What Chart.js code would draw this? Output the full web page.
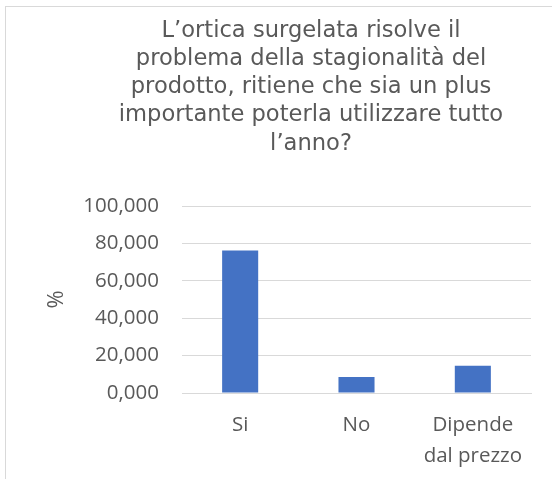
<!DOCTYPE html>
<html lang="it">
<head>
<meta charset="utf-8">
<title>Ortica surgelata</title>
<script src="https://cdn.jsdelivr.net/npm/chart.js@4.4.1/dist/chart.umd.min.js"></script>
<style>
  html, body {
    margin: 0;
    padding: 0;
    background: #ffffff;
    overflow: hidden;
  }
  .frame {
    position: absolute;
    left: 5px;
    top: 6px;
    width: 640px;
    height: 520px;
    border: 1px solid #d9d9d9;
  }
  .chart-box {
    position: absolute;
    left: 0;
    top: 0;
    width: 552px;
    height: 479px;
  }
</style>
</head>
<body>
<div class="frame"></div>
<div class="chart-box">
  <canvas id="surveyChart" width="552" height="479"></canvas>
</div>
<script>
// Survey answers (percent of respondents)
const titleLines = [
  'L\u2019ortica surgelata risolve il',
  'problema della stagionalità del',
  'prodotto, ritiene che sia un plus',
  'importante poterla utilizzare tutto',
  'l\u2019anno?'
]
const categories = ['Si', 'No', ['Dipende', 'dal prezzo']]
const percentages = [76.2, 8.5, 14.6]
const tickValues = [0, 20, 40, 60, 80, 100]

const textColor = '#595959'
const gridColor = '#d9d9d9'
const barColor = '#4472c4'
const axisFont = '"Open Sans", sans-serif'

// Title is centred on the whole chart frame, not on the plot area
const frameTitle = {
  id: 'frameTitle',
  afterDraw(chart) {
    const ctx = chart.ctx
    ctx.save()
    ctx.fillStyle = textColor
    ctx.font = '22.6px "DejaVu Sans", Verdana, sans-serif'
    ctx.textAlign = 'center'
    ctx.textBaseline = 'alphabetic'
    titleLines.forEach((line, i) => {
      ctx.fillText(line, 311, 36.5 + i * 28.3)
    })
    ctx.restore()
  }
}

const surveyChart = new Chart(document.getElementById('surveyChart').getContext('2d'), {
  type: 'bar',
  data: {
    labels: categories,
    datasets: [
      {
        label: '%',
        data: percentages,
        backgroundColor: barColor,
        borderWidth: 0,
        categoryPercentage: 1,
        barPercentage: 0.31
      }
    ]
  },
  options: {
    responsive: false,
    animation: false,
    layout: {
      padding: { top: 206, left: 45, right: 21, bottom: 0 }
    },
    scales: {
      x: {
        grid: {
          display: false,
          drawTicks: false
        },
        border: {
          display: true,
          color: gridColor,
          width: 1
        },
        ticks: {
          color: textColor,
          padding: 17,
          maxRotation: 0,
          autoSkip: false,
          font: { family: axisFont, size: 20.5, lineHeight: 1.5 }
        },
        afterFit(scale) {
          scale.height = 479 - 393
        }
      },
      y: {
        min: 0,
        max: 100,
        afterBuildTicks(scale) {
          scale.ticks = tickValues.map((v) => ({ value: v }))
        },
        grid: {
          color: gridColor,
          lineWidth: 1,
          drawTicks: false
        },
        border: {
          display: false
        },
        ticks: {
          color: textColor,
          padding: 23,
          font: { family: axisFont, size: 20.5 },
          callback: (value) => value.toFixed(3).replace('.', ',')
        },
        title: {
          display: true,
          text: '%',
          color: textColor,
          padding: { top: 0, bottom: 0 },
          font: { family: axisFont, size: 22, lineHeight: 1.1 }
        },
        afterFit(scale) {
          scale.width = 182 - 45
        }
      }
    },
    plugins: {
      legend: { display: false },
      tooltip: { enabled: false },
      title: { display: false }
    }
  },
  plugins: [frameTitle]
})
</script>
</body>
</html>
